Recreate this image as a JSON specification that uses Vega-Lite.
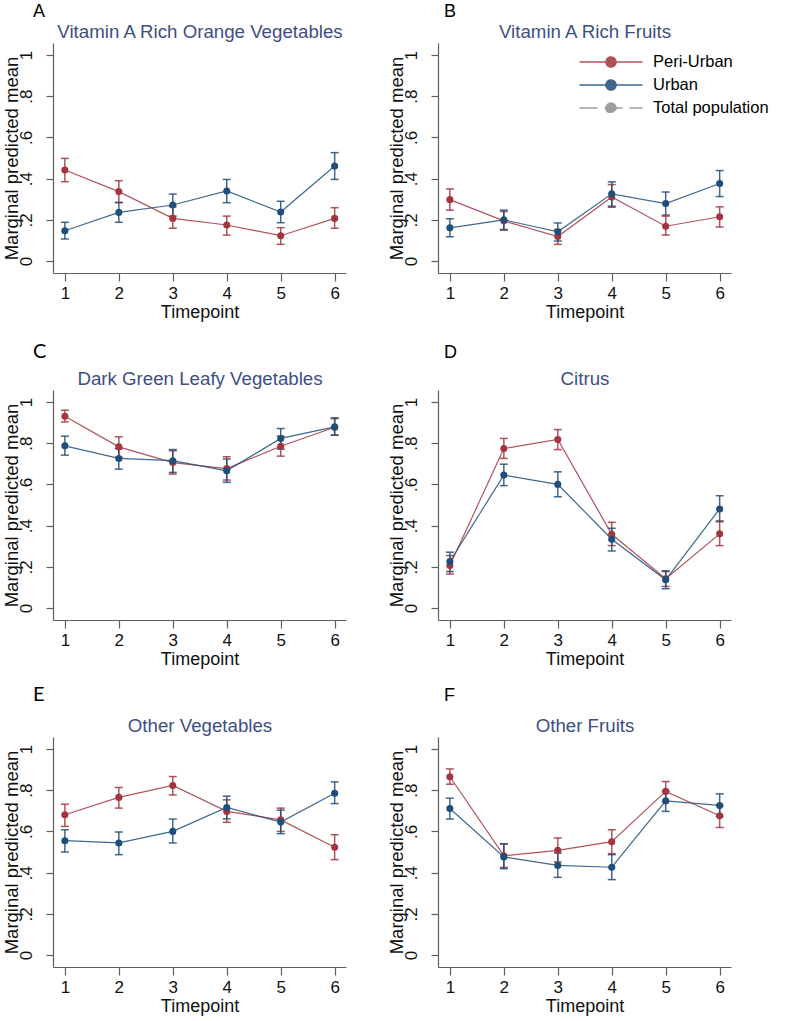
{
"$schema": "https://vega.github.io/schema/vega-lite/v6.json",
"background": "white",
"padding": {"left": 1, "top": 3, "right": 5, "bottom": 3},
"data": {"values": [
{"panel":"A","series":"Peri-Urban","t":1,"mean":0.442,"lo":0.385,"hi":0.498},
{"panel":"A","series":"Peri-Urban","t":2,"mean":0.337,"lo":0.283,"hi":0.390},
{"panel":"A","series":"Peri-Urban","t":3,"mean":0.207,"lo":0.159,"hi":0.264},
{"panel":"A","series":"Peri-Urban","t":4,"mean":0.175,"lo":0.126,"hi":0.218},
{"panel":"A","series":"Peri-Urban","t":5,"mean":0.123,"lo":0.081,"hi":0.162},
{"panel":"A","series":"Peri-Urban","t":6,"mean":0.207,"lo":0.159,"hi":0.259},
{"panel":"A","series":"Urban","t":1,"mean":0.147,"lo":0.107,"hi":0.188},
{"panel":"A","series":"Urban","t":2,"mean":0.236,"lo":0.188,"hi":0.285},
{"panel":"A","series":"Urban","t":3,"mean":0.272,"lo":0.218,"hi":0.325},
{"panel":"A","series":"Urban","t":4,"mean":0.340,"lo":0.283,"hi":0.396},
{"panel":"A","series":"Urban","t":5,"mean":0.238,"lo":0.186,"hi":0.290},
{"panel":"A","series":"Urban","t":6,"mean":0.461,"lo":0.396,"hi":0.526},
{"panel":"B","series":"Peri-Urban","t":1,"mean":0.298,"lo":0.247,"hi":0.350},
{"panel":"B","series":"Peri-Urban","t":2,"mean":0.195,"lo":0.150,"hi":0.240},
{"panel":"B","series":"Peri-Urban","t":3,"mean":0.119,"lo":0.081,"hi":0.153},
{"panel":"B","series":"Peri-Urban","t":4,"mean":0.311,"lo":0.261,"hi":0.371},
{"panel":"B","series":"Peri-Urban","t":5,"mean":0.169,"lo":0.126,"hi":0.218},
{"panel":"B","series":"Peri-Urban","t":6,"mean":0.215,"lo":0.165,"hi":0.263},
{"panel":"B","series":"Urban","t":1,"mean":0.161,"lo":0.118,"hi":0.205},
{"panel":"B","series":"Urban","t":2,"mean":0.200,"lo":0.153,"hi":0.247},
{"panel":"B","series":"Urban","t":3,"mean":0.142,"lo":0.097,"hi":0.185},
{"panel":"B","series":"Urban","t":4,"mean":0.326,"lo":0.266,"hi":0.384},
{"panel":"B","series":"Urban","t":5,"mean":0.279,"lo":0.223,"hi":0.335},
{"panel":"B","series":"Urban","t":6,"mean":0.376,"lo":0.313,"hi":0.439},
{"panel":"C","series":"Peri-Urban","t":1,"mean":0.931,"lo":0.903,"hi":0.960},
{"panel":"C","series":"Peri-Urban","t":2,"mean":0.782,"lo":0.731,"hi":0.831},
{"panel":"C","series":"Peri-Urban","t":3,"mean":0.706,"lo":0.650,"hi":0.763},
{"panel":"C","series":"Peri-Urban","t":4,"mean":0.677,"lo":0.621,"hi":0.734},
{"panel":"C","series":"Peri-Urban","t":5,"mean":0.785,"lo":0.737,"hi":0.834},
{"panel":"C","series":"Peri-Urban","t":6,"mean":0.877,"lo":0.839,"hi":0.919},
{"panel":"C","series":"Urban","t":1,"mean":0.787,"lo":0.742,"hi":0.834},
{"panel":"C","series":"Urban","t":2,"mean":0.726,"lo":0.674,"hi":0.774},
{"panel":"C","series":"Urban","t":3,"mean":0.715,"lo":0.658,"hi":0.769},
{"panel":"C","series":"Urban","t":4,"mean":0.666,"lo":0.610,"hi":0.723},
{"panel":"C","series":"Urban","t":5,"mean":0.823,"lo":0.771,"hi":0.871},
{"panel":"C","series":"Urban","t":6,"mean":0.879,"lo":0.839,"hi":0.923},
{"panel":"D","series":"Peri-Urban","t":1,"mean":0.206,"lo":0.165,"hi":0.255},
{"panel":"D","series":"Peri-Urban","t":2,"mean":0.774,"lo":0.726,"hi":0.823},
{"panel":"D","series":"Peri-Urban","t":3,"mean":0.818,"lo":0.769,"hi":0.866},
{"panel":"D","series":"Peri-Urban","t":4,"mean":0.358,"lo":0.303,"hi":0.416},
{"panel":"D","series":"Peri-Urban","t":5,"mean":0.142,"lo":0.105,"hi":0.177},
{"panel":"D","series":"Peri-Urban","t":6,"mean":0.360,"lo":0.303,"hi":0.423},
{"panel":"D","series":"Urban","t":1,"mean":0.226,"lo":0.177,"hi":0.271},
{"panel":"D","series":"Urban","t":2,"mean":0.645,"lo":0.594,"hi":0.698},
{"panel":"D","series":"Urban","t":3,"mean":0.600,"lo":0.540,"hi":0.661},
{"panel":"D","series":"Urban","t":4,"mean":0.334,"lo":0.277,"hi":0.387},
{"panel":"D","series":"Urban","t":5,"mean":0.137,"lo":0.094,"hi":0.181},
{"panel":"D","series":"Urban","t":6,"mean":0.481,"lo":0.419,"hi":0.545},
{"panel":"E","series":"Peri-Urban","t":1,"mean":0.681,"lo":0.624,"hi":0.732},
{"panel":"E","series":"Peri-Urban","t":2,"mean":0.765,"lo":0.713,"hi":0.813},
{"panel":"E","series":"Peri-Urban","t":3,"mean":0.823,"lo":0.777,"hi":0.866},
{"panel":"E","series":"Peri-Urban","t":4,"mean":0.697,"lo":0.644,"hi":0.753},
{"panel":"E","series":"Peri-Urban","t":5,"mean":0.656,"lo":0.600,"hi":0.713},
{"panel":"E","series":"Peri-Urban","t":6,"mean":0.523,"lo":0.463,"hi":0.584},
{"panel":"E","series":"Urban","t":1,"mean":0.555,"lo":0.500,"hi":0.608},
{"panel":"E","series":"Urban","t":2,"mean":0.544,"lo":0.487,"hi":0.597},
{"panel":"E","series":"Urban","t":3,"mean":0.600,"lo":0.544,"hi":0.660},
{"panel":"E","series":"Urban","t":4,"mean":0.716,"lo":0.661,"hi":0.771},
{"panel":"E","series":"Urban","t":5,"mean":0.645,"lo":0.589,"hi":0.703},
{"panel":"E","series":"Urban","t":6,"mean":0.785,"lo":0.735,"hi":0.840},
{"panel":"F","series":"Peri-Urban","t":1,"mean":0.865,"lo":0.829,"hi":0.903},
{"panel":"F","series":"Peri-Urban","t":2,"mean":0.482,"lo":0.425,"hi":0.540},
{"panel":"F","series":"Peri-Urban","t":3,"mean":0.508,"lo":0.452,"hi":0.568},
{"panel":"F","series":"Peri-Urban","t":4,"mean":0.550,"lo":0.492,"hi":0.608},
{"panel":"F","series":"Peri-Urban","t":5,"mean":0.794,"lo":0.745,"hi":0.842},
{"panel":"F","series":"Peri-Urban","t":6,"mean":0.676,"lo":0.619,"hi":0.726},
{"panel":"F","series":"Urban","t":1,"mean":0.711,"lo":0.660,"hi":0.761},
{"panel":"F","series":"Urban","t":2,"mean":0.476,"lo":0.419,"hi":0.539},
{"panel":"F","series":"Urban","t":3,"mean":0.435,"lo":0.377,"hi":0.495},
{"panel":"F","series":"Urban","t":4,"mean":0.426,"lo":0.366,"hi":0.487},
{"panel":"F","series":"Urban","t":5,"mean":0.748,"lo":0.697,"hi":0.797},
{"panel":"F","series":"Urban","t":6,"mean":0.726,"lo":0.673,"hi":0.782}
]},
"columns": 2,
"spacing": {"row": 117, "column": 92},
"bounds": "flush",
"concat": [
{"width": 293, "height": 230,
 "transform": [{"filter": "datum.panel === 'A'"}],
 "title": {"text": "A", "anchor": "start", "frame": "group", "dx": -20, "offset": 1},
 "layer": [
  {"mark": {"type": "errorbar", "thickness": 1.5, "opacity": 0.85, "ticks": {"size": 8, "thickness": 1.5}},
   "encoding": {"x": {"field": "t", "type": "quantitative", "scale": {"domain": [0.78, 6.21], "nice": false, "zero": false}, "axis": null},
    "y": {"field": "lo", "type": "quantitative", "scale": {"domain": [-0.058, 1.058], "nice": false, "zero": false}, "title": "Marginal predicted mean", "axis": {"values": [0, 0.2, 0.4, 0.6, 0.8, 1]}},
    "y2": {"field": "hi"},
    "color": {"field": "series", "type": "nominal", "scale": {"domain": ["Peri-Urban", "Urban", "Total population"], "range": ["#a2363f", "#1f4e7a", "#8c8c8c"]}}}},
  {"mark": {"type": "line", "strokeWidth": 1.2, "opacity": 0.85},
   "encoding": {"x": {"field": "t", "type": "quantitative", "scale": {"domain": [0.78, 6.21], "nice": false, "zero": false}, "axis": {"orient": "top", "title": "Vitamin A Rich Orange Vegetables", "labels": false, "ticks": false, "domain": false, "tickSize": 0, "titlePadding": 2, "titleColor": "#3d4f82", "titleFontSize": 18.7}},
    "y": {"field": "mean", "type": "quantitative", "title": "Marginal predicted mean", "axis": {"values": [0, 0.2, 0.4, 0.6, 0.8, 1]}},
    "color": {"field": "series", "type": "nominal", "scale": {"domain": ["Peri-Urban", "Urban", "Total population"], "range": ["#a2363f", "#1f4e7a", "#8c8c8c"]}}}},
  {"mark": {"type": "point", "filled": true, "size": 50, "opacity": 1},
   "encoding": {"x": {"field": "t", "type": "quantitative", "scale": {"domain": [0.78, 6.21], "nice": false, "zero": false}, "title": "Timepoint", "axis": {"values": [1, 2, 3, 4, 5, 6], "format": "d"}},
    "y": {"field": "mean", "type": "quantitative", "title": "Marginal predicted mean", "axis": {"values": [0, 0.2, 0.4, 0.6, 0.8, 1]}},
    "color": {"field": "series", "type": "nominal", "scale": {"domain": ["Peri-Urban", "Urban", "Total population"], "range": ["#a2363f", "#1f4e7a", "#8c8c8c"]}}}}
 ],
 "resolve": {"axis": {"x": "independent"}}
},
{"width": 293, "height": 230,
 "transform": [{"filter": "datum.panel === 'B'"}],
 "title": {"text": "B", "anchor": "start", "frame": "group", "dx": 6, "offset": 1},
 "layer": [
  {"mark": {"type": "errorbar", "thickness": 1.5, "opacity": 0.85, "ticks": {"size": 8, "thickness": 1.5}},
   "encoding": {"x": {"field": "t", "type": "quantitative", "scale": {"domain": [0.78, 6.21], "nice": false, "zero": false}, "axis": null},
    "y": {"field": "lo", "type": "quantitative", "scale": {"domain": [-0.058, 1.058], "nice": false, "zero": false}, "title": "Marginal predicted mean", "axis": {"values": [0, 0.2, 0.4, 0.6, 0.8, 1]}},
    "y2": {"field": "hi"},
    "color": {"field": "series", "type": "nominal", "scale": {"domain": ["Peri-Urban", "Urban", "Total population"], "range": ["#a2363f", "#1f4e7a", "#8c8c8c"]}}}},
  {"mark": {"type": "line", "strokeWidth": 1.2, "opacity": 0.85},
   "encoding": {"x": {"field": "t", "type": "quantitative", "scale": {"domain": [0.78, 6.21], "nice": false, "zero": false}, "axis": {"orient": "top", "title": "Vitamin A Rich Fruits", "labels": false, "ticks": false, "domain": false, "tickSize": 0, "titlePadding": 2, "titleColor": "#3d4f82", "titleFontSize": 18.7}},
    "y": {"field": "mean", "type": "quantitative", "title": "Marginal predicted mean", "axis": {"values": [0, 0.2, 0.4, 0.6, 0.8, 1]}},
    "color": {"field": "series", "type": "nominal", "scale": {"domain": ["Peri-Urban", "Urban", "Total population"], "range": ["#a2363f", "#1f4e7a", "#8c8c8c"]}}}},
  {"mark": {"type": "point", "filled": true, "size": 50, "opacity": 1},
   "encoding": {"x": {"field": "t", "type": "quantitative", "scale": {"domain": [0.78, 6.21], "nice": false, "zero": false}, "title": "Timepoint", "axis": {"values": [1, 2, 3, 4, 5, 6], "format": "d"}},
    "y": {"field": "mean", "type": "quantitative", "title": "Marginal predicted mean", "axis": {"values": [0, 0.2, 0.4, 0.6, 0.8, 1]}},
    "color": {"field": "series", "type": "nominal", "scale": {"domain": ["Peri-Urban", "Urban", "Total population"], "range": ["#a2363f", "#1f4e7a", "#8c8c8c"]},
     "legend": {"orient": "none", "legendX": 547, "legendY": 8, "title": null, "padding": 0,
       "symbolType": "M-3.15,0L3.15,0M-0.5,0A0.5,0.5,0,1,1,0.5,0A0.5,0.5,0,1,1,-0.5,0Z",
       "symbolSize": 400, "symbolStrokeWidth": 1.6, "labelOffset": 31, "rowPadding": 3,
       "labelFontSize": 16.5, "labelFont": "Liberation Sans", "labelColor": "#000",
       "symbolDash": {"expr": "datum.value === 'Total population' ? [18, 7] : [1, 0]"},
       "encode": {"symbols": {
          "fill": {"value": {"expr": "scale('color', datum.value)"}},
          "stroke": {"value": {"expr": "scale('color', datum.value)"}},
          "opacity": {"value": 1}}}}}}}
 ],
 "resolve": {"axis": {"x": "independent"}}
},
{"width": 293, "height": 230,
 "transform": [{"filter": "datum.panel === 'C'"}],
 "title": {"text": "C", "anchor": "start", "frame": "group", "dx": -20, "offset": 7.5, "font": "Lato", "fontSize": 20},
 "layer": [
  {"mark": {"type": "errorbar", "thickness": 1.5, "opacity": 0.85, "ticks": {"size": 8, "thickness": 1.5}},
   "encoding": {"x": {"field": "t", "type": "quantitative", "scale": {"domain": [0.78, 6.21], "nice": false, "zero": false}, "axis": null},
    "y": {"field": "lo", "type": "quantitative", "scale": {"domain": [-0.058, 1.058], "nice": false, "zero": false}, "title": "Marginal predicted mean", "axis": {"values": [0, 0.2, 0.4, 0.6, 0.8, 1]}},
    "y2": {"field": "hi"},
    "color": {"field": "series", "type": "nominal", "scale": {"domain": ["Peri-Urban", "Urban", "Total population"], "range": ["#a2363f", "#1f4e7a", "#8c8c8c"]}}}},
  {"mark": {"type": "line", "strokeWidth": 1.2, "opacity": 0.85},
   "encoding": {"x": {"field": "t", "type": "quantitative", "scale": {"domain": [0.78, 6.21], "nice": false, "zero": false}, "axis": {"orient": "top", "title": "Dark Green Leafy Vegetables", "labels": false, "ticks": false, "domain": false, "tickSize": 0, "titlePadding": 2, "titleColor": "#3d4f82", "titleFontSize": 18.7}},
    "y": {"field": "mean", "type": "quantitative", "title": "Marginal predicted mean", "axis": {"values": [0, 0.2, 0.4, 0.6, 0.8, 1]}},
    "color": {"field": "series", "type": "nominal", "scale": {"domain": ["Peri-Urban", "Urban", "Total population"], "range": ["#a2363f", "#1f4e7a", "#8c8c8c"]}}}},
  {"mark": {"type": "point", "filled": true, "size": 50, "opacity": 1},
   "encoding": {"x": {"field": "t", "type": "quantitative", "scale": {"domain": [0.78, 6.21], "nice": false, "zero": false}, "title": "Timepoint", "axis": {"values": [1, 2, 3, 4, 5, 6], "format": "d"}},
    "y": {"field": "mean", "type": "quantitative", "title": "Marginal predicted mean", "axis": {"values": [0, 0.2, 0.4, 0.6, 0.8, 1]}},
    "color": {"field": "series", "type": "nominal", "scale": {"domain": ["Peri-Urban", "Urban", "Total population"], "range": ["#a2363f", "#1f4e7a", "#8c8c8c"]}}}}
 ],
 "resolve": {"axis": {"x": "independent"}}
},
{"width": 293, "height": 230,
 "transform": [{"filter": "datum.panel === 'D'"}],
 "title": {"text": "D", "anchor": "start", "frame": "group", "dx": 6, "offset": 7.5},
 "layer": [
  {"mark": {"type": "errorbar", "thickness": 1.5, "opacity": 0.85, "ticks": {"size": 8, "thickness": 1.5}},
   "encoding": {"x": {"field": "t", "type": "quantitative", "scale": {"domain": [0.78, 6.21], "nice": false, "zero": false}, "axis": null},
    "y": {"field": "lo", "type": "quantitative", "scale": {"domain": [-0.058, 1.058], "nice": false, "zero": false}, "title": "Marginal predicted mean", "axis": {"values": [0, 0.2, 0.4, 0.6, 0.8, 1]}},
    "y2": {"field": "hi"},
    "color": {"field": "series", "type": "nominal", "scale": {"domain": ["Peri-Urban", "Urban", "Total population"], "range": ["#a2363f", "#1f4e7a", "#8c8c8c"]}}}},
  {"mark": {"type": "line", "strokeWidth": 1.2, "opacity": 0.85},
   "encoding": {"x": {"field": "t", "type": "quantitative", "scale": {"domain": [0.78, 6.21], "nice": false, "zero": false}, "axis": {"orient": "top", "title": "Citrus", "labels": false, "ticks": false, "domain": false, "tickSize": 0, "titlePadding": 2, "titleColor": "#3d4f82", "titleFontSize": 18.7}},
    "y": {"field": "mean", "type": "quantitative", "title": "Marginal predicted mean", "axis": {"values": [0, 0.2, 0.4, 0.6, 0.8, 1]}},
    "color": {"field": "series", "type": "nominal", "scale": {"domain": ["Peri-Urban", "Urban", "Total population"], "range": ["#a2363f", "#1f4e7a", "#8c8c8c"]}}}},
  {"mark": {"type": "point", "filled": true, "size": 50, "opacity": 1},
   "encoding": {"x": {"field": "t", "type": "quantitative", "scale": {"domain": [0.78, 6.21], "nice": false, "zero": false}, "title": "Timepoint", "axis": {"values": [1, 2, 3, 4, 5, 6], "format": "d"}},
    "y": {"field": "mean", "type": "quantitative", "title": "Marginal predicted mean", "axis": {"values": [0, 0.2, 0.4, 0.6, 0.8, 1]}},
    "color": {"field": "series", "type": "nominal", "scale": {"domain": ["Peri-Urban", "Urban", "Total population"], "range": ["#a2363f", "#1f4e7a", "#8c8c8c"]}}}}
 ],
 "resolve": {"axis": {"x": "independent"}}
},
{"width": 293, "height": 230,
 "transform": [{"filter": "datum.panel === 'E'"}],
 "title": {"text": "E", "anchor": "start", "frame": "group", "dx": -20, "offset": 11, "font": "Lato", "fontSize": 20},
 "layer": [
  {"mark": {"type": "errorbar", "thickness": 1.5, "opacity": 0.85, "ticks": {"size": 8, "thickness": 1.5}},
   "encoding": {"x": {"field": "t", "type": "quantitative", "scale": {"domain": [0.78, 6.21], "nice": false, "zero": false}, "axis": null},
    "y": {"field": "lo", "type": "quantitative", "scale": {"domain": [-0.058, 1.058], "nice": false, "zero": false}, "title": "Marginal predicted mean", "axis": {"values": [0, 0.2, 0.4, 0.6, 0.8, 1]}},
    "y2": {"field": "hi"},
    "color": {"field": "series", "type": "nominal", "scale": {"domain": ["Peri-Urban", "Urban", "Total population"], "range": ["#a2363f", "#1f4e7a", "#8c8c8c"]}}}},
  {"mark": {"type": "line", "strokeWidth": 1.2, "opacity": 0.85},
   "encoding": {"x": {"field": "t", "type": "quantitative", "scale": {"domain": [0.78, 6.21], "nice": false, "zero": false}, "axis": {"orient": "top", "title": "Other Vegetables", "labels": false, "ticks": false, "domain": false, "tickSize": 0, "titlePadding": 2, "titleColor": "#3d4f82", "titleFontSize": 18.7}},
    "y": {"field": "mean", "type": "quantitative", "title": "Marginal predicted mean", "axis": {"values": [0, 0.2, 0.4, 0.6, 0.8, 1]}},
    "color": {"field": "series", "type": "nominal", "scale": {"domain": ["Peri-Urban", "Urban", "Total population"], "range": ["#a2363f", "#1f4e7a", "#8c8c8c"]}}}},
  {"mark": {"type": "point", "filled": true, "size": 50, "opacity": 1},
   "encoding": {"x": {"field": "t", "type": "quantitative", "scale": {"domain": [0.78, 6.21], "nice": false, "zero": false}, "title": "Timepoint", "axis": {"values": [1, 2, 3, 4, 5, 6], "format": "d"}},
    "y": {"field": "mean", "type": "quantitative", "title": "Marginal predicted mean", "axis": {"values": [0, 0.2, 0.4, 0.6, 0.8, 1]}},
    "color": {"field": "series", "type": "nominal", "scale": {"domain": ["Peri-Urban", "Urban", "Total population"], "range": ["#a2363f", "#1f4e7a", "#8c8c8c"]}}}}
 ],
 "resolve": {"axis": {"x": "independent"}}
},
{"width": 293, "height": 230,
 "transform": [{"filter": "datum.panel === 'F'"}],
 "title": {"text": "F", "anchor": "start", "frame": "group", "dx": 6, "offset": 11},
 "layer": [
  {"mark": {"type": "errorbar", "thickness": 1.5, "opacity": 0.85, "ticks": {"size": 8, "thickness": 1.5}},
   "encoding": {"x": {"field": "t", "type": "quantitative", "scale": {"domain": [0.78, 6.21], "nice": false, "zero": false}, "axis": null},
    "y": {"field": "lo", "type": "quantitative", "scale": {"domain": [-0.058, 1.058], "nice": false, "zero": false}, "title": "Marginal predicted mean", "axis": {"values": [0, 0.2, 0.4, 0.6, 0.8, 1]}},
    "y2": {"field": "hi"},
    "color": {"field": "series", "type": "nominal", "scale": {"domain": ["Peri-Urban", "Urban", "Total population"], "range": ["#a2363f", "#1f4e7a", "#8c8c8c"]}}}},
  {"mark": {"type": "line", "strokeWidth": 1.2, "opacity": 0.85},
   "encoding": {"x": {"field": "t", "type": "quantitative", "scale": {"domain": [0.78, 6.21], "nice": false, "zero": false}, "axis": {"orient": "top", "title": "Other Fruits", "labels": false, "ticks": false, "domain": false, "tickSize": 0, "titlePadding": 2, "titleColor": "#3d4f82", "titleFontSize": 18.7}},
    "y": {"field": "mean", "type": "quantitative", "title": "Marginal predicted mean", "axis": {"values": [0, 0.2, 0.4, 0.6, 0.8, 1]}},
    "color": {"field": "series", "type": "nominal", "scale": {"domain": ["Peri-Urban", "Urban", "Total population"], "range": ["#a2363f", "#1f4e7a", "#8c8c8c"]}}}},
  {"mark": {"type": "point", "filled": true, "size": 50, "opacity": 1},
   "encoding": {"x": {"field": "t", "type": "quantitative", "scale": {"domain": [0.78, 6.21], "nice": false, "zero": false}, "title": "Timepoint", "axis": {"values": [1, 2, 3, 4, 5, 6], "format": "d"}},
    "y": {"field": "mean", "type": "quantitative", "title": "Marginal predicted mean", "axis": {"values": [0, 0.2, 0.4, 0.6, 0.8, 1]}},
    "color": {"field": "series", "type": "nominal", "scale": {"domain": ["Peri-Urban", "Urban", "Total population"], "range": ["#a2363f", "#1f4e7a", "#8c8c8c"]}}}}
 ],
 "resolve": {"axis": {"x": "independent"}}
}
],
"config": {
 "view": {"stroke": null},
 "font": "Liberation Sans",
 "title": {"font": "Liberation Sans", "fontSize": 18, "fontWeight": "normal", "color": "#000"},
 "axis": {"grid": false, "domainColor": "#5f5f5f", "tickColor": "#5f5f5f", "domainWidth": 1.2, "tickWidth": 1.2,
   "labelFont": "Liberation Sans", "titleFont": "Liberation Sans", "labelColor": "#111", "titleColor": "#111", "titleFontWeight": "normal"},
 "axisX": {"tickSize": 8, "labelFontSize": 17, "titleFontSize": 18, "labelPadding": 4, "titlePadding": 2, "labelFlush": false},
 "axisY": {"labelAngle": -90, "labelExpr": "datum.value == 0 ? '0' : datum.value == 1 ? '1' : replace(format(datum.value, '.1f'), '0.', '.')", "tickSize": 7, "labelFontSize": 17, "titleFontSize": 18.5, "labelPadding": 11, "titlePadding": -4}
}
}
